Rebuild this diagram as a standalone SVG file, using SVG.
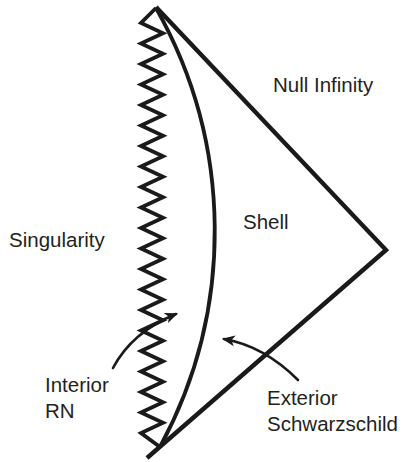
<svg xmlns="http://www.w3.org/2000/svg" width="404" height="462" viewBox="0 0 404 462">
<defs>
<style>
.ln{fill:none;stroke:#1a1a1a;stroke-width:4.4;stroke-linejoin:miter;stroke-linecap:butt}
.zz{fill:none;stroke:#1a1a1a;stroke-width:3.8;stroke-linejoin:miter}
.arc{fill:none;stroke:#1a1a1a;stroke-width:3.8}
.ar{fill:none;stroke:#1a1a1a;stroke-width:2.6;stroke-linecap:round}
.t{font-family:"Liberation Sans",Arial,sans-serif;font-size:20.5px;fill:#231f20}
</style>
<marker id="ah" viewBox="0 0 12 10" refX="10" refY="5" markerWidth="5" markerHeight="5" orient="auto" markerUnits="strokeWidth">
<path d="M0,0 L12,5 L0,10 L3,5 Z" fill="#1a1a1a"/>
</marker>
</defs>
<rect width="404" height="462" fill="#fff"/>
<g id="penrose">
<g id="singularity-edge"><path class="zz" d="M156,8 L141,23 L163,33.3 L141,43.5 L163,53.8 L141,64 L163,74.3 L141,84.5 L163,94.8 L141,105 L163,115.3 L141,125.5 L163,135.8 L141,146 L163,156.3 L141,166.5 L163,176.8 L141,187 L163,197.3 L141,207.5 L163,217.8 L141,228 L163,238.3 L141,248.5 L163,258.8 L141,269 L163,279.3 L141,289.5 L163,299.8 L141,310 L163,320.3 L141,330.5 L163,340.8 L141,351 L163,361.3 L141,371.5 L163,381.8 L141,392 L163,402.3 L141,412.5 L163,422.8 L141,433 L160,447"/></g>
<g id="null-infinity"><path class="ln" d="M156,7 L386,250 L147,458"/></g>
<g id="shell"><path class="arc" d="M156,8 A453,453 0 0 1 160,447"/></g>
</g>
<g id="connectors">
<path class="ar" d="M113,368 Q132,332 176,314" marker-end="url(#ah)"/>
<path class="ar" d="M298,380 Q264,346 224,339" marker-end="url(#ah)"/>
</g>
<g id="labels">
<text class="t" x="273" y="92">Null Infinity</text>
<text class="t" x="243" y="229">Shell</text>
<text class="t" x="9" y="247">Singularity</text>
<text class="t" x="45" y="392">Interior</text>
<text class="t" x="45" y="418">RN</text>
<text class="t" x="267" y="405">Exterior</text>
<text class="t" x="267" y="431">Schwarzschild</text>
</g>
</svg>
